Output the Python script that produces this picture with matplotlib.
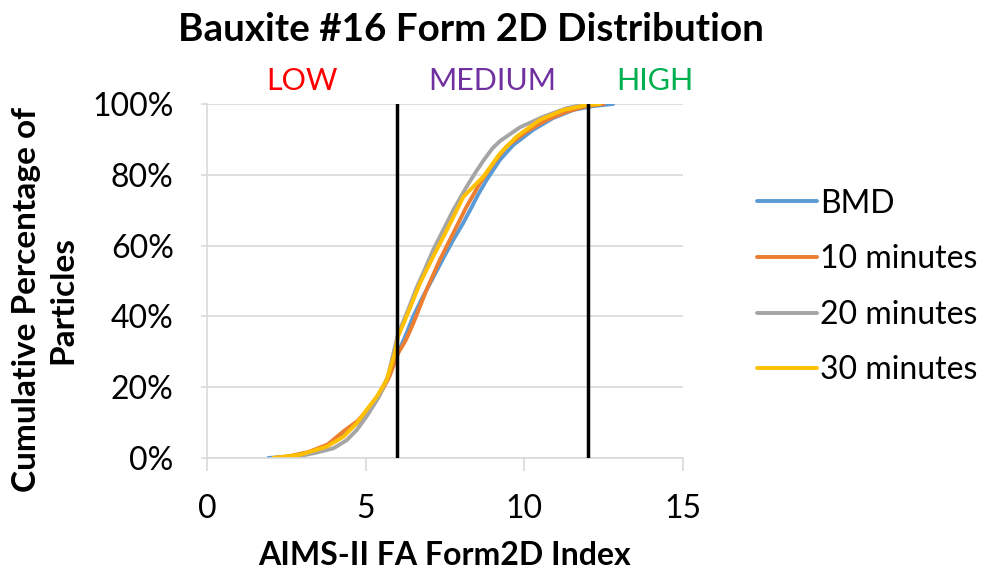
import matplotlib.pyplot as plt
from matplotlib.ticker import FuncFormatter

# Данные (x = индекс Form2D, y = накопленный %)
bmd_x = [1.93, 2.6, 3.2, 3.8, 4.3, 4.75, 5.1, 5.45, 5.75, 6.02, 6.3, 6.5, 6.8, 7.13, 7.45, 7.76, 8.05, 8.29,
         8.55, 8.81, 9.23, 9.65, 10.28, 10.9, 11.54, 12.17, 12.8]
bmd_y = [0, 0.4, 1.5, 3.5, 6.5, 10, 14, 18.5, 23.5, 29.6, 35.5, 40, 45.5, 51, 56.5, 61.6, 66, 70,
         74.5, 78.5, 84.2, 88.4, 92.7, 96, 98.3, 99.4, 100]

m10_x = [2.1, 2.6, 3.2, 3.8, 4.3, 4.75, 5.1, 5.45, 5.75, 6.02, 6.25, 6.5, 6.92, 7.34, 7.76, 8.18, 8.6, 9.02,
         9.44, 10.07, 10.7, 11.33, 11.96, 12.5]
m10_y = [0, 0.5, 1.7, 3.8, 7.5, 10.5, 14, 18, 23, 29.6, 33, 38, 47.5, 56, 63.5, 71, 77.6, 83.2,
         88, 92.2, 95.5, 97.8, 99.4, 100]

m20_x = [2.3, 2.9, 3.4, 3.98, 4.4, 4.72, 5.05, 5.4, 5.7, 6.02, 6.3, 6.6, 6.85, 7.13, 7.45, 7.76, 8.18, 8.45,
         8.71, 9.0, 9.23, 9.86, 10.6, 11.33, 11.96]
m20_y = [0, 0.5, 1.4, 2.7, 5, 7.9, 12, 17, 23, 35, 41, 48, 53, 58.8, 64.5, 70, 76.6, 80.5,
         84, 87.5, 89.5, 93.4, 96.4, 98.8, 100]

m30_x = [2.09, 2.93, 3.77, 4.3, 4.72, 5.03, 5.35, 5.66, 5.92, 6.02, 6.29, 6.71, 7.13, 7.56, 8.08, 8.71,
         9.23, 9.76, 10.49, 11.23, 11.96, 12.38]
m30_y = [0, 0.9, 3.2, 6.0, 9.8, 13.6, 17.3, 22, 29.6, 34.3, 40, 49.3, 56.9, 64.4, 73.8, 79.5,
         86, 90.8, 95.5, 98.3, 99.7, 100]

series_names = ['BMD', '10 minutes', '20 minutes', '30 minutes']
series_colors = ['#5B9BD5', '#ED7D31', '#A5A5A5', '#FFC000']

# Границы классов
bounds = [6, 12]
class_labels = ['LOW', 'MEDIUM', 'HIGH']
class_pos = [3, 9, 14.1]
class_colors = ['#FF0000', '#7030A0', '#00B050']

plt.rcParams['font.family'] = ['Lato', 'DejaVu Sans']

fig = plt.figure(figsize=(9.86, 5.76), dpi=100)
ax = fig.add_axes([0.2099, 0.2049, 0.4828, 0.6146])

xs = [bmd_x, m10_x, m20_x, m30_x]
ys = [bmd_y, m10_y, m20_y, m30_y]
for x, y, name, c in zip(xs, ys, series_names, series_colors):
    ax.plot(x, y, color=c, linewidth=2.8, label=name, solid_capstyle='round')

for b in bounds:
    ax.axvline(b, color='black', linewidth=2.5, zorder=5)

ax.set_xlim(0, 15)
ax.set_ylim(0, 100)
ax.set_xticks([0, 5, 10, 15])
ax.set_yticks([0, 20, 40, 60, 80, 100])
ax.yaxis.set_major_formatter(FuncFormatter(lambda v, p: f'{int(v)}%'))
ax.grid(axis='y', color='#D9D9D9', linewidth=1.2)
ax.set_axisbelow(True)
for s in ['top', 'right']:
    ax.spines[s].set_visible(False)
for s in ['left', 'bottom']:
    ax.spines[s].set_color('#D9D9D9')
    ax.spines[s].set_linewidth(1.2)
ax.tick_params(axis='x', length=9, width=1.2, color='#D9D9D9', pad=17, labelsize=23)
ax.tick_params(axis='y', length=4, width=1.2, color='#D9D9D9', pad=20, labelsize=23)

ax.set_xlabel('AIMS-II FA Form2D Index', fontsize=23, fontweight='bold', labelpad=12)
fig.text(45 / 986, 1 - 300 / 576, 'Cumulative Percentage of\nParticles', rotation=90,
         ha='center', va='center', fontsize=24, fontweight='bold', linespacing=1.3,
         multialignment='center')

for lab, px, c in zip(class_labels, class_pos, class_colors):
    ax.text(px, 106.5, lab, color=c, fontsize=22, ha='center', va='center', clip_on=False)

fig.text(0.478, 0.948, 'Bauxite #16 Form 2D Distribution', ha='center', va='center',
         fontsize=27.8, fontweight='bold')

ax.legend(loc='center left', bbox_to_anchor=(1.094, 0.483), frameon=False, fontsize=23,
          handlelength=1.9, handletextpad=0.1, labelspacing=0.8)

fig.savefig('out.png', dpi=100)
